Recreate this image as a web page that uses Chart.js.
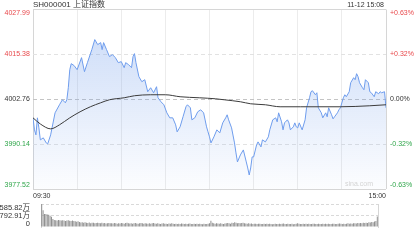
<!DOCTYPE html>
<html>
<head>
<meta charset="utf-8">
<script src="https://cdn.jsdelivr.net/npm/chart.js@4/dist/chart.umd.min.js"></script>
<style>
  html, body { margin: 0; padding: 0; background: #fff; }
  #wrap { position: relative; width: 420px; height: 240px; overflow: hidden; }
  #price { position: absolute; left: 0; top: 0; }
  #vol { position: absolute; left: 0; top: 200px; }
</style>
</head>
<body>
<div id="wrap">
  <canvas id="price" width="420" height="200"></canvas>
  <canvas id="vol" width="420" height="40"></canvas>
</div>
<script>
// minutes after 09:30 (trading minutes, 0..240) and index value
const priceMin = [
  0, 1, 2, 3, 4, 5, 7, 9, 10, 12,
  15, 18, 20, 22, 23, 24, 25, 26, 28, 30,
  33, 35, 37, 40, 42, 44, 46, 47, 48, 50,
  52, 54, 56, 58, 60, 62, 63, 65, 67, 68,
  69, 70, 72, 74, 76, 78, 80, 82, 84, 85,
  87, 89, 91, 93, 95, 97, 98, 100, 102, 104,
  105, 107, 108, 110, 112, 114, 116, 118, 119, 120,
  121, 123, 125, 127, 129, 131, 132, 133, 135, 137,
  138, 139, 141, 143, 145, 146, 147, 148, 149, 150,
  152, 153, 155, 156, 158, 160, 161, 163, 165, 166,
  167, 169, 170, 171, 173, 174, 175, 177, 178, 179,
  180, 181, 183, 185, 186, 188, 189, 190, 192, 193,
  194, 196, 197, 199, 200, 201, 203, 204, 205, 207,
  208, 209, 211, 212, 213, 215, 216, 218, 219, 220,
  221, 222, 224, 225, 226, 228, 229, 230, 232, 233,
  235, 236, 237, 239, 240
];
const priceVal = [
  3997.53, 3994.15, 3992.74, 3997.53, 3994.71, 3991.33, 3991.90, 3990.48, 3990.20, 3992.74,
  3998.94, 4001.20, 4002.61, 4001.76, 4002.61, 4005.99, 4011.07, 4012.76, 4012.20, 4011.07,
  4014.45, 4010.51, 4013.04, 4016.71, 4019.53, 4018.12, 4018.68, 4016.71, 4018.68, 4016.71,
  4014.74, 4015.30, 4014.45, 4013.04, 4013.33, 4011.63, 4013.04, 4012.48, 4011.63, 4014.74,
  4015.58, 4013.04, 4009.10, 4007.69, 4008.25, 4004.87, 4005.99, 4004.58, 4006.28, 4003.17,
  4002.05, 4001.20, 3998.94, 3997.53, 3997.53, 3995.56, 3993.59, 3995.00, 3997.82, 4000.64,
  4001.20, 4000.35, 3996.97, 3997.53, 3999.23, 3999.79, 3998.94, 3995.00, 3993.59, 3992.18,
  3990.48, 3992.18, 3994.15, 3993.30, 3996.12, 3997.53, 3998.38, 3996.97, 3994.71, 3990.48,
  3987.66, 3985.13, 3987.10, 3988.51, 3985.13, 3983.43, 3981.46, 3983.43, 3986.54, 3986.54,
  3989.92, 3990.77, 3989.36, 3991.33, 3990.77, 3992.18, 3994.15, 3996.97, 3997.53, 3996.41,
  3998.94, 3996.41, 3994.15, 3996.12, 3996.97, 3996.12, 3994.15, 3995.00, 3996.12, 3995.00,
  3994.71, 3996.12, 3994.15, 3996.97, 4000.35, 4003.17, 4004.87, 4005.15, 4004.02, 4004.58,
  4000.35, 3998.94, 3997.53, 3998.94, 3997.82, 4000.35, 3998.38, 3997.25, 3997.82, 3998.94,
  3999.79, 4000.35, 4003.17, 4004.02, 4003.46, 4004.87, 4007.40, 4008.81, 4008.25, 4009.94,
  4009.10, 4007.40, 4005.99, 4005.43, 4008.25, 4007.40, 4004.87, 4004.58, 4003.46, 4004.87,
  4004.30, 4004.87, 4004.58, 4004.87, 4000.35
];

// average price line
const avgMin = [0, 5, 12, 18, 25, 32, 39, 46, 52, 62, 69, 80, 90, 100, 113, 124, 130, 141, 148, 158, 168, 182, 209, 229, 240];
const avgVal = [
  3997.53, 3995.80, 3994.43, 3995.56, 3997.53, 3999.23, 4000.64, 4001.76, 4002.61, 4003.17,
  4003.74, 4004.02, 4004.02, 4003.46, 4003.17, 4002.89, 4002.61, 4002.05, 4001.48, 4001.20,
  4000.64, 4000.64, 4000.64, 4000.92, 4001.20
];

// volume per minute, 万
const volVal = [
  1585.82, 1160, 890, 900, 870, 840, 780, 700, 560, 480,
  470, 450, 480, 460, 440, 470, 450, 420, 440, 460,
  430, 410, 450, 420, 390, 360, 400, 340, 310, 330,
  290, 320, 300, 270, 310, 260, 290, 300, 250, 280,
  300, 270, 260, 290, 250, 270, 240, 260, 280, 250,
  260, 240, 270, 250, 230, 260, 240, 280, 250, 230,
  270, 290, 250, 240, 260, 230, 250, 270, 240, 220,
  250, 280, 260, 230, 250, 240, 220, 260, 230, 250,
  270, 240, 220, 250, 230, 210, 240, 260, 230, 220,
  210, 240, 220, 250, 230, 210, 220, 200, 230, 210,
  240, 220, 210, 230, 200, 220, 240, 210, 200, 220,
  210, 230, 200, 220, 210, 190, 220, 200, 210, 230,
  250, 430, 300, 250, 230, 260, 240, 220, 250, 230,
  210, 240, 260, 280, 250, 230, 300, 270, 320, 290,
  260, 280, 250, 270, 300, 260, 240, 230, 250, 220,
  240, 210, 230, 220, 200, 220, 230, 210, 200, 220,
  210, 230, 200, 220, 210, 190, 210, 220, 200, 210,
  230, 200, 220, 240, 210, 200, 230, 210, 200, 220,
  190, 210, 230, 250, 220, 210, 200, 220, 210, 230,
  200, 220, 210, 200, 220, 230, 210, 200, 220, 210,
  200, 220, 210, 230, 200, 220, 210, 200, 220, 230,
  210, 200, 220, 240, 230, 210, 220, 200, 230, 250,
  220, 240, 230, 260, 250, 240, 270, 250, 280, 260,
  290, 270, 300, 280, 320, 310, 340, 330, 380, 410,
  720
];

const priceTicks = [3977.52, 3990.14, 4002.76, 4015.38, 4027.99];
const priceLabels = ['3977.52', '3990.14', '4002.76', '4015.38', '4027.99'];
const pctLabels = ['-0.63%', '-0.32%', '0.00%', '+0.32%', '+0.63%'];
const volTicks = [0, 792.91, 1585.82];
const volLabels = ['0', '792.91万', '1585.82万'];
const timeLabels = ['09:30', '15:00'];
const titleText = 'SH000001 上证指数';
const stampText = '11-12 15:08';

const FONT = '"Liberation Sans", Arial, "Noto Sans CJK SC", sans-serif';
const RED = '#e8484b';
const GREEN = '#2fa64a';
const DARK = '#333';
const EDGE = '#d6d6d6';

function labelColor(i) {
  if (i < 2) return GREEN;
  if (i > 2) return RED;
  return DARK;
}

const priceText = {
  id: 'priceText',
  afterDraw(chart) {
    const { ctx, chartArea: a, scales: { y } } = chart;
    ctx.save();
    ctx.textBaseline = 'middle';
    ctx.font = '7px ' + FONT;
    priceTicks.forEach((v, i) => {
      let py = y.getPixelForValue(v);
      if (i === 0) py -= 4;
      if (i === priceTicks.length - 1) py += 4;
      ctx.fillStyle = labelColor(i);
      ctx.textAlign = 'left';
      ctx.fillText(priceLabels[i], 4.5, py);
      ctx.fillText(pctLabels[i], 390, py);
    });
    // time labels under the plot
    ctx.fillStyle = DARK;
    ctx.textAlign = 'left';
    ctx.fillText(timeLabels[0], a.left, a.bottom + 7);
    ctx.textAlign = 'right';
    ctx.fillText(timeLabels[1], a.right, a.bottom + 7);
    // header
    ctx.fillText(stampText, a.right - 2, 5);
    ctx.font = '8px ' + FONT;
    ctx.textAlign = 'left';
    ctx.fillText(titleText, a.left, 5);
    // watermark
    ctx.font = '7px ' + FONT;
    ctx.fillStyle = '#d4d4d4';
    ctx.fillText('sina.com', 345, a.bottom - 5);
    ctx.restore();
  }
};

const volText = {
  id: 'volText',
  afterDraw(chart) {
    const { ctx, scales: { y } } = chart;
    ctx.save();
    ctx.font = '7.5px ' + FONT;
    ctx.fillStyle = DARK;
    ctx.textAlign = 'right';
    ctx.textBaseline = 'middle';
    volTicks.forEach((v, i) => {
      let py = y.getPixelForValue(v);
      if (i === 0) py -= 3;
      if (i === volTicks.length - 1) py += 4;
      ctx.fillText(volLabels[i], 30, py);
    });
    ctx.restore();
  }
};

new Chart(document.getElementById('price'), {
  type: 'line',
  data: {
    datasets: [{
      data: avgMin.map((m, i) => ({ x: m, y: avgVal[i] })),
      borderColor: '#3c3c3c',
      borderWidth: 1,
      pointRadius: 0,
      cubicInterpolationMode: 'monotone',
      fill: false
    }, {
      data: priceMin.map((m, i) => ({ x: m, y: priceVal[i] })),
      borderColor: '#6f9ded',
      borderWidth: 1,
      pointRadius: 0,
      tension: 0,
      fill: 'start',
      backgroundColor: (c) => {
        const a = c.chart.chartArea;
        if (!a) return 'rgba(0,0,0,0)';
        const g = c.chart.ctx.createLinearGradient(0, a.top, 0, a.bottom);
        g.addColorStop(0, 'rgba(110,155,235,0.38)');
        g.addColorStop(1, 'rgba(110,155,235,0.02)');
        return g;
      }
    }]
  },
  options: {
    responsive: false,
    animation: false,
    layout: { padding: { left: 33, right: 34, top: 9.5, bottom: 11 } },
    plugins: { legend: { display: false }, tooltip: { enabled: false } },
    scales: {
      x: {
        type: 'linear',
        min: 0,
        max: 240,
        ticks: { display: false, stepSize: 30 },
        grid: {
          drawTicks: false,
          color: (c) => (c.index === 0 || c.index === 8) ? EDGE : '#ececec'
        },
        border: { display: false }
      },
      y: {
        min: priceTicks[0],
        max: priceTicks[4],
        afterBuildTicks: (s) => { s.ticks = priceTicks.map(v => ({ value: v })); },
        ticks: { display: false },
        grid: {
          drawTicks: false,
          color: (c) => c.index === 2 ? '#c4c4c4' : (c.index === 0 || c.index === 4) ? EDGE : '#e2e2e2'
        },
        border: {
          display: false,
          dash: (c) => (c.index === 0 || c.index === 4) ? [] : [4, 3]
        }
      }
    }
  },
  plugins: [priceText]
});

new Chart(document.getElementById('vol'), {
  type: 'bar',
  data: {
    labels: volVal.map((v, i) => i),
    datasets: [{
      data: volVal,
      backgroundColor: '#8f8f8f',
      barPercentage: 0.7,
      categoryPercentage: 1
    }]
  },
  options: {
    responsive: false,
    animation: false,
    layout: { padding: { left: 33, right: 34, top: 4, bottom: 5 } },
    plugins: { legend: { display: false }, tooltip: { enabled: false } },
    scales: {
      x: {
        ticks: { display: false },
        grid: { display: false },
        border: { display: false }
      },
      y: {
        min: 0,
        max: volTicks[2],
        afterBuildTicks: (s) => { s.ticks = volTicks.map(v => ({ value: v })); },
        ticks: { display: false },
        grid: {
          drawTicks: false,
          color: (c) => c.index === 0 ? 'rgba(0,0,0,0)' : '#d9d9d9'
        },
        border: { display: false, dash: [3, 2] }
      },
      // plain side edges of the volume panel
      yl: {
        position: 'left',
        ticks: { display: false },
        grid: { display: false },
        border: { display: true, color: EDGE }
      },
      yr: {
        position: 'right',
        ticks: { display: false },
        grid: { display: false },
        border: { display: true, color: EDGE }
      }
    }
  },
  plugins: [volText]
});
</script>
</body>
</html>
